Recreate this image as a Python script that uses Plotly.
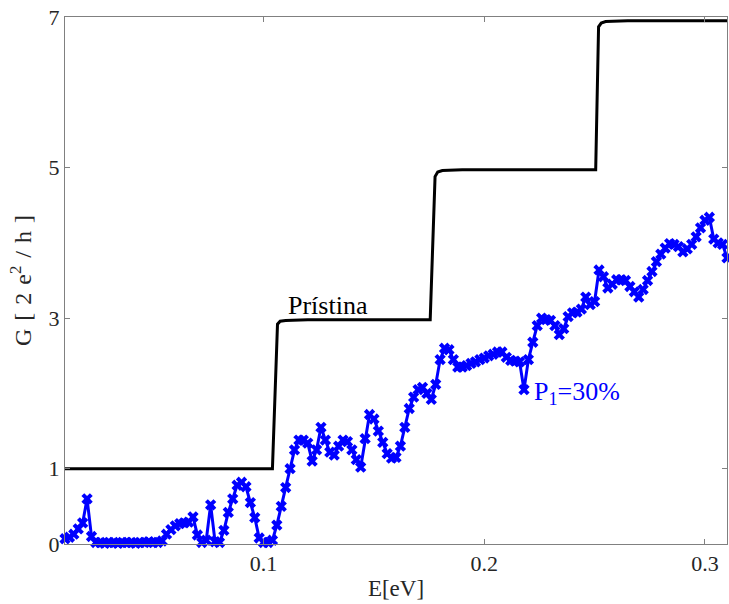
import numpy as np
import plotly.graph_objects as go

# Pristine ribbon conductance (quantized steps)
prist_E = [0.010, 0.104, 0.1063, 0.1075, 0.110, 0.120, 0.1755, 0.1777, 0.1789, 0.181, 0.190,
           0.2505, 0.2518, 0.2530, 0.255, 0.265, 0.310]
prist_G = [1.00, 1.00, 2.92, 2.96, 2.97, 2.98, 2.98, 4.88, 4.94, 4.96, 4.97,
           4.97, 6.87, 6.92, 6.94, 6.95, 6.95]

# Disordered ribbon, P1 = 30 %
dis_E = np.round(np.arange(0.010, 0.3101, 0.002), 4)
dis_G = [0.07, 0.09, 0.13, 0.20, 0.28, 0.60, 0.10, 0.02, 0.02, 0.01,
         0.02, 0.02, 0.01, 0.02, 0.02, 0.02, 0.01, 0.02, 0.02, 0.03,
         0.02, 0.02, 0.04, 0.13, 0.19, 0.24, 0.27, 0.28, 0.29, 0.36,
         0.12, 0.02, 0.05, 0.52, 0.03, 0.02, 0.18, 0.42, 0.60, 0.78,
         0.82, 0.76, 0.55, 0.35, 0.08, 0.02, 0.02, 0.05, 0.25, 0.50,
         0.75, 1.00, 1.25, 1.38, 1.38, 1.34, 1.10, 1.25, 1.55, 1.38,
         1.22, 1.18, 1.30, 1.38, 1.36, 1.25, 1.12, 1.02, 1.40, 1.72,
         1.66, 1.50, 1.35, 1.20, 1.14, 1.15, 1.30, 1.55, 1.80, 1.95,
         2.05, 2.08, 2.00, 1.92, 2.12, 2.45, 2.60, 2.58, 2.45, 2.35,
         2.35, 2.37, 2.40, 2.42, 2.45, 2.47, 2.50, 2.52, 2.55, 2.55,
         2.48, 2.44, 2.43, 2.42, 2.05, 2.45, 2.68, 2.90, 3.00, 2.98,
         2.97, 2.90, 2.78, 2.86, 3.02, 3.07, 3.08, 3.12, 3.28, 3.18,
         3.22, 3.64, 3.55, 3.40, 3.45, 3.51, 3.51, 3.50, 3.42, 3.35,
         3.28, 3.38, 3.50, 3.62, 3.75, 3.85, 3.93, 3.99, 3.98, 3.95,
         3.88, 3.92, 3.98, 4.08, 4.20, 4.30, 4.34, 4.05, 4.00, 3.98,
         3.80]

x_ticks = [0.1, 0.2, 0.3]
y_ticks = [0, 1, 3, 5, 7]

FONT = "Liberation Serif"
TXT = "#262626"
SP = "\u2004"
y_title = SP.join(["G", "[", "2", "e<sup>2</sup>", "/", "h", "]"])

fig = go.Figure()
fig.add_trace(go.Scatter(x=prist_E, y=prist_G, mode="lines",
                         line=dict(color="black", width=3), showlegend=False))
fig.add_trace(go.Scatter(x=dis_E, y=dis_G, mode="lines+markers",
                         line=dict(color="#0000FF", width=3),
                         marker=dict(symbol="x", size=10, color="#0000FF"),
                         showlegend=False, cliponaxis=False))

fig.add_annotation(x=0.129, y=3.17, text="Prístina", showarrow=False,
                   font=dict(family=FONT, size=26, color="black"))
fig.add_annotation(x=0.2421, y=2.0, text="P<sub>1</sub>=30%", showarrow=False,
                   font=dict(family=FONT, size=26, color="#0000FF"))

axis_common = dict(showline=True, linecolor="#808080", linewidth=1, mirror="ticks",
                   ticks="inside", ticklen=5, tickcolor="#808080", showgrid=False,
                   zeroline=False, tickfont=dict(family=FONT, size=22, color=TXT))

fig.update_xaxes(range=[0.01, 0.31], tickvals=x_ticks, ticktext=[str(v) for v in x_ticks],
                 title=dict(text="E[eV]", font=dict(family=FONT, size=23, color=TXT), standoff=4),
                 **axis_common)
fig.update_yaxes(range=[0, 7], tickvals=y_ticks, ticktext=[str(v) for v in y_ticks],
                 title=dict(text=y_title, font=dict(family=FONT, size=24, color=TXT), standoff=10),
                 **axis_common)

fig.update_layout(width=729, height=604, margin=dict(l=65, r=2, t=17, b=60),
                  font=dict(family=FONT),
                  plot_bgcolor="white", paper_bgcolor="white")

fig.write_html("out.html")
